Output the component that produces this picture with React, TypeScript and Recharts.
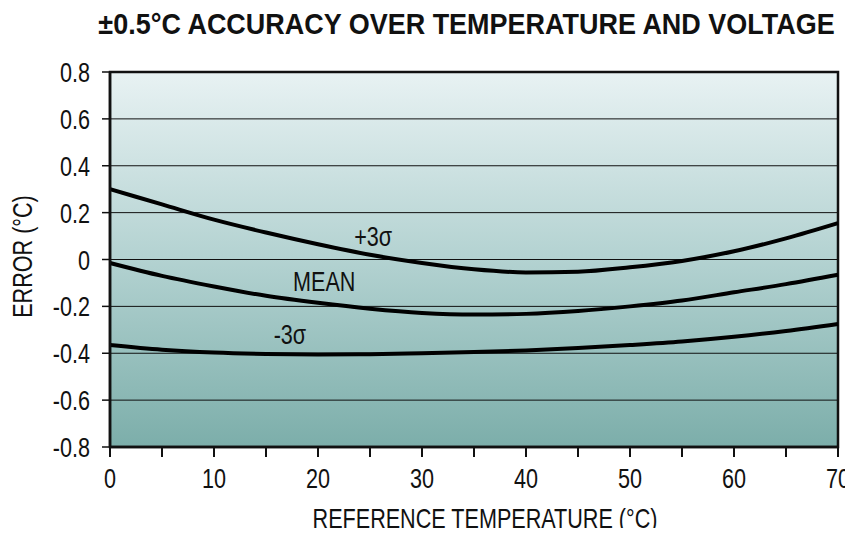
import React from "react";
import {
  CartesianGrid,
  Line,
  LineChart,
  ReferenceArea,
  ReferenceDot,
  XAxis,
  YAxis
} from "recharts";

const temps = [0, 5, 10, 15, 20, 25, 30, 35, 40, 45, 50, 55, 60, 65, 70];
const plus3Sigma = [0.3, 0.235, 0.17, 0.115, 0.065, 0.02, -0.015, -0.042, -0.055, -0.052, -0.033, -0.006, 0.035, 0.09, 0.155];
const meanError = [-0.015, -0.07, -0.115, -0.155, -0.185, -0.21, -0.228, -0.235, -0.232, -0.22, -0.2, -0.175, -0.14, -0.105, -0.065];
const minus3Sigma = [-0.365, -0.385, -0.397, -0.403, -0.405, -0.404, -0.4, -0.395, -0.388, -0.378, -0.365, -0.35, -0.33, -0.305, -0.275];

const xTicks = [0, 5, 10, 15, 20, 25, 30, 35, 40, 45, 50, 55, 60, 65, 70];
const yTicks = [-0.8, -0.6, -0.4, -0.2, 0, 0.2, 0.4, 0.6, 0.8];

const curveLabels = [
  { x: 25.3, y: 0.098, text: "+3σ" },
  { x: 20.6, y: -0.095, text: "MEAN" },
  { x: 17.3, y: -0.32, text: "-3σ" }
];

const TITLE = "±0.5°C ACCURACY OVER TEMPERATURE AND VOLTAGE";
const X_LABEL = "REFERENCE TEMPERATURE (°C)";
const Y_LABEL = "ERROR (°C)";

const FONT = "'Liberation Sans', Arial, sans-serif";
const INK = "#111";

const data = temps.map((t, i) => ({
  t,
  plus: plus3Sigma[i],
  mean: meanError[i],
  minus: minus3Sigma[i]
}));

// condensed look: the installed fonts have no narrow face, so squeeze horizontally
function NarrowText({
  x,
  y,
  anchor = "middle",
  size = 27,
  rotate = 0,
  squeeze = 0.8,
  bold = false,
  children
}: {
  x: number;
  y: number;
  anchor?: "start" | "middle" | "end";
  size?: number;
  rotate?: number;
  squeeze?: number;
  bold?: boolean;
  children: React.ReactNode;
}) {
  return (
    <text
      transform={`translate(${x},${y}) rotate(${rotate}) scale(${squeeze},1)`}
      textAnchor={anchor}
      fontFamily={FONT}
      fontSize={size}
      fontWeight={bold ? "bold" : "normal"}
      fill={INK}
    >
      {children}
    </text>
  );
}

const XTick = (props: any) => {
  const { x, y, payload } = props;
  if (payload.value % 10 !== 0) return null;
  return (
    <NarrowText x={x} y={y + 27}>
      {String(payload.value)}
    </NarrowText>
  );
};

const YTick = (props: any) => {
  const { x, y, payload } = props;
  const v = payload.value as number;
  return (
    <NarrowText x={x} y={y + 10} anchor="end">
      {v === 0 ? "0" : v.toFixed(1)}
    </NarrowText>
  );
};

export default function App() {
  return (
    <div style={{ position: "relative", margin: -8, width: 853, height: 536, background: "#fff" }}>
      <svg width={853} height={536} style={{ position: "absolute", left: 0, top: 0 }}>
        <NarrowText x={466.5} y={34} size={29} squeeze={0.93} bold>
          {TITLE}
        </NarrowText>
      </svg>
      <LineChart
        width={853}
        height={536}
        data={data}
        margin={{ top: 72, right: 15, left: 10, bottom: 4 }}
      >
        <defs>
          <linearGradient id="bg" x1="0" y1="0" x2="0" y2="1">
            <stop offset="0%" stopColor="#e8f2f3" />
            <stop offset="50%" stopColor="#b3d2d1" />
            <stop offset="100%" stopColor="#7caeaa" />
          </linearGradient>
        </defs>
        <CartesianGrid
          vertical={false}
          stroke={INK}
          strokeWidth={1}
          fill="url(#bg)"
          fillOpacity={1}
        />
        <XAxis
          dataKey="t"
          type="number"
          domain={[0, 70]}
          ticks={xTicks}
          interval={0}
          tickSize={10}
          tickMargin={4}
          height={85}
          stroke={INK}
          tick={<XTick />}
          tickLine={{ stroke: INK, strokeWidth: 2 }}
          axisLine={{ stroke: INK, strokeWidth: 2.5 }}
          label={{
            content: (p: any) => {
              const vb = p.viewBox;
              return (
                <NarrowText x={vb.x + vb.width / 2 + 11} y={528}>
                  {X_LABEL}
                </NarrowText>
              );
            }
          }}
        />
        <YAxis
          type="number"
          domain={[-0.8, 0.8]}
          ticks={yTicks}
          interval={0}
          tickSize={8}
          tickMargin={12}
          width={100}
          stroke={INK}
          tick={<YTick />}
          tickLine={{ stroke: INK, strokeWidth: 1.5 }}
          axisLine={{ stroke: INK, strokeWidth: 2.5 }}
          label={{
            content: (p: any) => {
              const vb = p.viewBox;
              return (
                <NarrowText x={vb.x + 22} y={vb.y + vb.height / 2 - 3} rotate={-90}>
                  {Y_LABEL}
                </NarrowText>
              );
            }
          }}
        />
        <ReferenceArea
          x1={0}
          x2={70}
          y1={-0.8}
          y2={0.8}
          fill="none"
          stroke={INK}
          strokeWidth={2.5}
          ifOverflow="visible"
        />
        <Line type="monotone" dataKey="plus" stroke="#000" strokeWidth={4} dot={false} isAnimationActive={false} />
        <Line type="monotone" dataKey="mean" stroke="#000" strokeWidth={4} dot={false} isAnimationActive={false} />
        <Line type="monotone" dataKey="minus" stroke="#000" strokeWidth={4} dot={false} isAnimationActive={false} />
        {curveLabels.map((l) => (
          <ReferenceDot
            key={l.text}
            x={l.x}
            y={l.y}
            r={0}
            fill="none"
            stroke="none"
            ifOverflow="visible"
            label={{
              content: (p: any) => {
                const vb = p.viewBox;
                return (
                  <NarrowText x={vb.x + (vb.width || 0) / 2} y={vb.y + (vb.height || 0) / 2 + 9}>
                    {l.text}
                  </NarrowText>
                );
              }
            }}
          />
        ))}
      </LineChart>
    </div>
  );
}
